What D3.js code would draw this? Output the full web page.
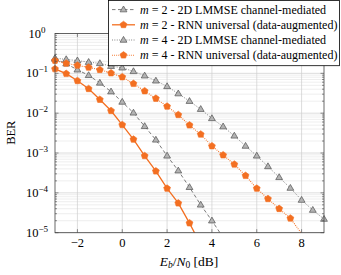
<!DOCTYPE html>
<html>
<head>
<meta charset="utf-8">
<script src="https://cdn.jsdelivr.net/npm/d3@7"></script>
<style>
  body { margin: 0; background: #fff; }
  svg { display: block; }
</style>
</head>
<body>
<div id="chart"></div>
<script>
// Eb/N0 grids (dB)
const snrLmmse2 = [-3, -2.5, -2, -1.5, -1, -0.5, 0, 0.5, 1, 1.5, 2, 2.5, 3, 3.5, 4, 4.5];
const snrRnn2 = [-3, -2.5, -2, -1.5, -1, -0.5, 0, 0.5, 1, 1.5, 2, 2.5, 3, 3.5];
const snrLmmse4 = [-3, -2.5, -2, -1.5, -1, -0.5, 0, 0.5, 1, 1.5, 2, 2.5, 3, 3.5, 4, 4.5,
    5, 5.5, 6, 6.5, 7, 7.5, 8, 8.5, 9];
const snrRnn4 = [-3, -2.5, -2, -1.5, -1, -0.5, 0, 0.5, 1, 1.5, 2, 2.5, 3, 3.5, 4, 4.5,
    5, 5.5, 6, 6.5, 7, 7.5, 8];

// BER values
const berLmmse2 = [0.229, 0.174, 0.123, 0.0891, 0.0575, 0.0347, 0.0191, 0.0102, 0.00468,
    0.00214, 8.5e-4, 3.6e-4, 1.38e-4, 5.0e-5, 2.0e-5, 7.6e-6];
const berRnn2 = [0.129, 0.098, 0.065, 0.041, 0.022, 0.0115, 0.0051, 0.0022, 8.5e-4,
    3.5e-4, 1.29e-4, 5.5e-5, 1.74e-5, 5.0e-6];
const berLmmse4 = [0.240, 0.224, 0.209, 0.191, 0.178, 0.151, 0.138, 0.112, 0.087, 0.065,
    0.047, 0.031, 0.020, 0.0126, 0.0074, 0.0046, 0.0027, 0.0015, 8.5e-4, 4.6e-4,
    2.45e-4, 1.32e-4, 6.6e-5, 3.7e-5, 2.2e-5];
const berRnn4 = [0.209, 0.178, 0.158, 0.141, 0.123, 0.102, 0.081, 0.055, 0.036, 0.0234,
    0.0148, 0.0091, 0.0050, 0.00295, 0.0015, 8.9e-4, 5.2e-4, 2.7e-4, 1.29e-4, 7.1e-5,
    4.0e-5, 2.3e-5, 9.5e-6];

const xTicks = [-2, 0, 2, 4, 6, 8];
const yTicks = [1, 1e-1, 1e-2, 1e-3, 1e-4, 1e-5];
const yTickExp = ['0', '\u22121', '\u22122', '\u22123', '\u22124', '\u22125'];

const legendLabels = [
    ['2', ' - 2D LMMSE channel-mediated'],
    ['2', ' - RNN universal (data-augmented)'],
    ['4', ' - 2D LMMSE channel-mediated'],
    ['4', ' - RNN universal (data-augmented)']
];

const ORANGE = '#f36f21';
const GRAY = '#7a7a7a';
const FONT = '"Liberation Serif", "DejaVu Serif", "Times New Roman", serif';

const series = [
    { x: snrLmmse2, y: berLmmse2, color: GRAY, dash: '3.5,2.5', width: 1.0, marker: 'tri' },
    { x: snrRnn2, y: berRnn2, color: ORANGE, dash: null, width: 1.3, marker: 'pent' },
    { x: snrLmmse4, y: berLmmse4, color: GRAY, dash: '0.9,1.5', width: 1.0, marker: 'tri' },
    { x: snrRnn4, y: berRnn4, color: ORANGE, dash: '0.9,1.2', width: 1.1, marker: 'pent' }
];

const W = 341, H = 275;
const plot = { left: 55, right: 324, top: 33.5, bottom: 232.7 };

const svg = d3.select('#chart').append('svg')
    .attr('width', W)
    .attr('height', H)
    .attr('font-family', FONT);

const x = d3.scaleLinear().domain([-3, 9]).range([plot.left, plot.right]);
const y = d3.scaleLog().domain([1e-5, 1]).range([plot.bottom, plot.top]);

svg.append('defs').append('clipPath').attr('id', 'clip')
    .append('rect')
    .attr('x', plot.left).attr('y', plot.top)
    .attr('width', plot.right - plot.left).attr('height', plot.bottom - plot.top);

// Grid
const grid = svg.append('g');
const minorY = [];
for (let e = -5; e < 0; e++) {
    for (let m = 2; m <= 9; m++) minorY.push(m * Math.pow(10, e));
}
grid.selectAll('.minor')
    .data(minorY)
    .enter().append('line')
    .attr('x1', plot.left).attr('x2', plot.right)
    .attr('y1', d => y(d)).attr('y2', d => y(d))
    .attr('stroke', '#e3e3e3').attr('stroke-width', 0.6);

grid.selectAll('.majorY')
    .data(yTicks)
    .enter().append('line')
    .attr('x1', plot.left).attr('x2', plot.right)
    .attr('y1', d => y(d)).attr('y2', d => y(d))
    .attr('stroke', '#cfcfcf').attr('stroke-width', 0.7);

grid.selectAll('.majorX')
    .data(xTicks)
    .enter().append('line')
    .attr('y1', plot.top).attr('y2', plot.bottom)
    .attr('x1', d => x(d)).attr('x2', d => x(d))
    .attr('stroke', '#cfcfcf').attr('stroke-width', 0.7);

// Curves
const line = d3.line()
    .x(d => x(d[0]))
    .y(d => y(d[1]));

const curves = svg.append('g').attr('clip-path', 'url(#clip)');

function markerPath(type, cx, cy) {
    if (type === 'tri') {
        const r = 3.6;
        return `M${cx},${cy - r} L${cx + r * 0.95},${cy + r * 0.62} L${cx - r * 0.95},${cy + r * 0.62} Z`;
    }
    const r = 3.6;
    let p = '';
    for (let k = 0; k < 5; k++) {
        const a = -Math.PI / 2 + k * 2 * Math.PI / 5;
        p += (k ? 'L' : 'M') + (cx + r * Math.cos(a)) + ',' + (cy + r * Math.sin(a));
    }
    return p + 'Z';
}

function drawMarker(g, type, color, cx, cy) {
    if (type === 'tri') {
        g.append('path').attr('d', markerPath(type, cx, cy))
            .attr('fill', '#b3b3b3').attr('stroke', '#5a5a5a').attr('stroke-width', 0.75);
    } else {
        g.append('path').attr('d', markerPath(type, cx, cy))
            .attr('fill', color).attr('stroke', color).attr('stroke-width', 0.6);
    }
}

series.forEach(s => {
    const pts = s.x.map((v, i) => [v, s.y[i]]);
    curves.append('path')
        .datum(pts)
        .attr('fill', 'none')
        .attr('stroke', s.color)
        .attr('stroke-width', s.width)
        .attr('stroke-dasharray', s.dash)
        .attr('d', line);
});

const marks = svg.append('g');
series.forEach(s => {
    s.x.forEach((v, i) => {
        if (s.y[i] < 1e-5) return;
        drawMarker(marks, s.marker, s.color, x(v), y(s.y[i]));
    });
});

// Axis box and ticks
svg.append('rect')
    .attr('x', plot.left).attr('y', plot.top)
    .attr('width', plot.right - plot.left).attr('height', plot.bottom - plot.top)
    .attr('fill', 'none').attr('stroke', '#444').attr('stroke-width', 0.8);

const ticks = svg.append('g').attr('stroke', '#444').attr('stroke-width', 0.6);
xTicks.forEach(t => {
    ticks.append('line').attr('x1', x(t)).attr('x2', x(t))
        .attr('y1', plot.bottom).attr('y2', plot.bottom - 3.5);
    ticks.append('line').attr('x1', x(t)).attr('x2', x(t))
        .attr('y1', plot.top).attr('y2', plot.top + 3.5);
});
yTicks.forEach(t => {
    ticks.append('line').attr('x1', plot.left).attr('x2', plot.left + 3.5)
        .attr('y1', y(t)).attr('y2', y(t));
    ticks.append('line').attr('x1', plot.right).attr('x2', plot.right - 3.5)
        .attr('y1', y(t)).attr('y2', y(t));
});
minorY.forEach(t => {
    ticks.append('line').attr('x1', plot.left).attr('x2', plot.left + 2)
        .attr('y1', y(t)).attr('y2', y(t));
    ticks.append('line').attr('x1', plot.right).attr('x2', plot.right - 2)
        .attr('y1', y(t)).attr('y2', y(t));
});

// Tick labels
svg.append('g').selectAll('text')
    .data(xTicks)
    .enter().append('text')
    .attr('x', d => x(d))
    .attr('y', plot.bottom + 14)
    .attr('text-anchor', 'middle')
    .attr('font-family', FONT)
    .attr('font-size', 12.5)
    .text(d => d < 0 ? '\u2212' + Math.abs(d) : String(d));

const yl = svg.append('g');
yTicks.forEach((t, i) => {
    const txt = yl.append('text')
        .attr('x', 37)
        .attr('y', y(t) + 4)
        .attr('text-anchor', 'middle')
        .attr('font-family', FONT)
        .attr('font-size', 12.5);
    txt.append('tspan').text('10');
    txt.append('tspan').attr('dy', -5).attr('font-size', 9).text(yTickExp[i]);
});

// Axis labels
const xl = svg.append('text')
    .attr('x', 189).attr('y', 266)
    .attr('text-anchor', 'middle')
    .attr('font-family', FONT)
    .attr('font-size', 13.5);
xl.append('tspan').attr('font-style', 'italic').text('E');
xl.append('tspan').attr('font-size', 9.5).attr('font-style', 'italic').attr('dy', 2).text('b');
xl.append('tspan').attr('dy', -2).text('/');
xl.append('tspan').attr('font-style', 'italic').text('N');
xl.append('tspan').attr('font-size', 9.5).attr('dy', 2).text('0');
xl.append('tspan').attr('dy', -2).text(' [dB]');

svg.append('text')
    .attr('transform', 'translate(15,132.7) rotate(-90)')
    .attr('text-anchor', 'middle')
    .attr('font-family', FONT)
    .attr('font-size', 12.5)
    .text('BER');

// Legend
const lg = svg.append('g');
lg.append('rect')
    .attr('x', 108.5).attr('y', 0.5)
    .attr('width', 231).attr('height', 65.2)
    .attr('fill', '#fff').attr('stroke', '#000').attr('stroke-width', 0.8);

series.forEach((s, i) => {
    const ly = 9.6 + i * 15.2;
    lg.append('line')
        .attr('x1', 112).attr('x2', 135)
        .attr('y1', ly).attr('y2', ly)
        .attr('stroke', s.color)
        .attr('stroke-width', s.width)
        .attr('stroke-dasharray', s.dash);
    drawMarker(lg, s.marker, s.color, 123.5, ly);
    const t = lg.append('text')
        .attr('x', 140).attr('y', ly + 4)
        .attr('font-family', FONT)
        .attr('font-size', 12);
    t.append('tspan').attr('font-style', 'italic').text('m');
    t.append('tspan').text(' = ' + legendLabels[i][0] + legendLabels[i][1]);
});
</script>
</body>
</html>
